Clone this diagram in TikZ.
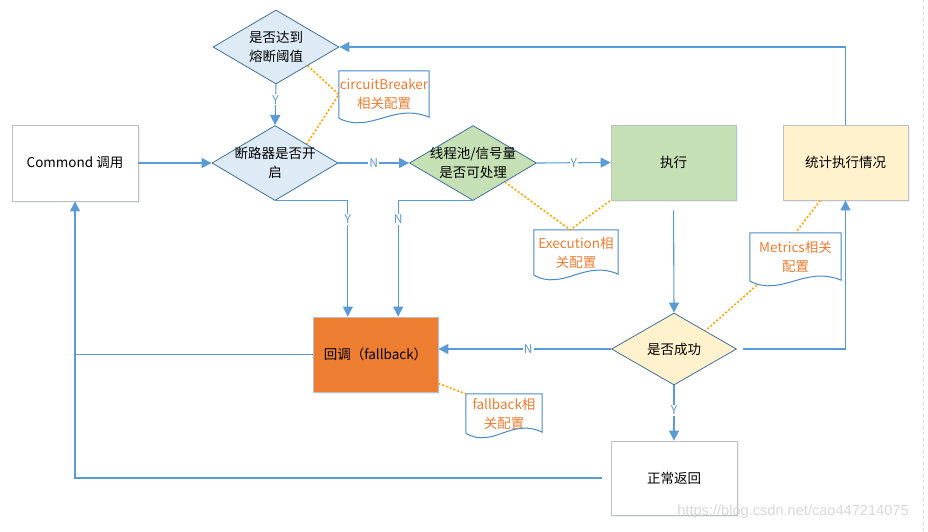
\documentclass[tikz,border=0pt]{standalone}
\usepackage{fontspec}
\setmainfont{Noto Sans CJK SC}
\newfontfamily\wmfont{Liberation Sans}
\usetikzlibrary{arrows.meta,shapes.geometric,calc,shadows}
\definecolor{lineblue}{HTML}{5B9BD5}
\definecolor{diaborder}{HTML}{41719C}
\definecolor{bluefill}{HTML}{DEEBF7}
\definecolor{greenfill}{HTML}{C5E0B4}
\definecolor{yellowfill}{HTML}{FFF2CC}
\definecolor{orangefill}{HTML}{ED7D31}
\definecolor{boxgray}{HTML}{BFBFBF}
\definecolor{cfgorange}{HTML}{FFA500}
\definecolor{doctext}{HTML}{ED7D31}
\definecolor{docblue}{HTML}{4A89C8}
\definecolor{shadowblue}{HTML}{9DC3E6}
\definecolor{wmgray}{HTML}{D9D9D9}
\tikzset{
  txt/.style={font=\fontsize{13.5}{19.5}\selectfont, align=center, inner sep=0pt},
  dia/.style={diamond, draw=diaborder, line width=0.8pt, inner sep=0pt, aspect=1},
  box/.style={rectangle, draw=boxgray, line width=0.8pt, txt,
    drop shadow={shadow xshift=1.5pt, shadow yshift=-1.5pt, opacity=0.2, fill=shadowblue}},
  conn/.style={draw=lineblue, line width=1.1pt, -{Triangle[length=10pt,width=10pt]}},
  plainconn/.style={draw=lineblue, line width=1.1pt},
  yn/.style={fill=white, text=lineblue, font=\fontsize{12}{14}\selectfont, inner sep=1pt},
  cfgline/.style={draw=cfgorange, line width=1.6pt, dash pattern=on 2pt off 2pt},
  docnode/.style={rectangle, inner sep=0pt, text=doctext, font=\fontsize{13.5}{19}\selectfont, align=center},
  docline/.style={draw=docblue, line width=1pt},
}
\newcommand\docshape[1]{%
  \draw[docline] (#1.south west) -- (#1.north west) -- (#1.north east) -- ($(#1.south east)+(0,-1)$)
    .. controls ($(#1.south east)!0.4!(#1.south west)+(0,-16)$) and ($(#1.south east)!0.65!(#1.south west)+(0,16)$) .. (#1.south west);}
\begin{document}
\begin{tikzpicture}[x=1pt,y=-1pt]
\useasboundingbox (0,0) rectangle (928,531);
\fill[white] (0,0) rectangle (928,531);

% diamonds
\node[dia, fill=bluefill, minimum width=126pt, minimum height=74pt,
  label={[txt,name=d1t]center:是否达到\\熔断阈值}] (d1) at (276,47) {};
\node[dia, fill=bluefill, minimum width=126pt, minimum height=75pt,
  label={[txt,name=d2t]center:断路器是否开\\启}] (d2) at (275,163) {};
\node[dia, fill=greenfill, minimum width=127pt, minimum height=75pt,
  label={[txt,name=d3t]center:线程池/信号量\\是否可处理}] (d3) at (473,163) {};
\node[dia, fill=yellowfill, minimum width=125pt, minimum height=72pt,
  label={[txt,name=d4t]center:是否成功}] (d4) at (674,349) {};

% boxes
\node[box, fill=white, minimum width=126pt, minimum height=76pt] (cmd) at (75,163) {Commond 调用};
\node[box, fill=greenfill, minimum width=125pt, minimum height=75pt] (exec) at (673.5,162.5) {执行};
\node[box, fill=yellowfill, minimum width=125pt, minimum height=75pt] (stat) at (845.5,162.5) {统计执行情况};
\node[box, fill=orangefill, draw=boxgray, minimum width=125pt, minimum height=75pt] (fb) at (375.5,354.5) {回调（fallback）};
\node[box, fill=white, minimum width=126pt, minimum height=74pt] (ret) at (674,478) {正常返回};

% documents
\node[docnode, minimum width=90pt, minimum height=47pt] (cb) at (384,94.5) {circuitBreaker\\相关配置};
\node[docnode, minimum width=84pt, minimum height=45pt] (ex) at (576,252.5) {Execution相\\关配置};
\node[docnode, minimum width=91pt, minimum height=48pt] (met) at (795.5,257) {Metrics相关\\配置};
\node[docnode, minimum width=76pt, minimum height=39pt] (fbd) at (504,413.5) {fallback相\\关配置};
\docshape{cb}
\docshape{ex}
\docshape{met}
\docshape{fbd}

% config dotted lines
\draw[cfgline] (d1.south east) -- (cb.west) -- (d2.north east);
\draw[cfgline] (d3.south east) -- ($(ex.north west)!0.43!(ex.north east)$) -- (exec.south west);
\draw[cfgline] ($(stat.south west)!0.3!(stat.south east)$) -- (met.north);
\draw[cfgline] ($(met.south west)+(7,4)$) -- (d4.north east);
\draw[cfgline] ($(fb.south east)+(0,-9)$) -- (fbd.north west);

% connectors
\draw[conn] (cmd.east) -- (d2.west);
\draw[conn] (d2.east) -- node[yn] (nlab1) {N} (d3.west);
\draw[conn] (d3.east) -- node[yn] (ylab1) {Y} (exec.west);
\draw[conn, shorten <=10pt] (exec.south) -- (d4.north);
\draw[conn] (d4.west) -- node[yn, pos=0.48] (nlab2) {N} (d4.west -| fb.east);
\draw[conn] (d4.south) -- node[yn, pos=0.45] (ylab2) {Y} (ret.north);
\draw[conn, shorten <=6pt] (d4.east) -| (stat.south);
\draw[conn] (stat.north) |- (d1.east);
\draw[conn] (d1.south) -- node[yn, pos=0.38] (ylab3) {Y} (d2.north);
\coordinate (fbin1) at ($(fb.north west)!0.28!(fb.north east)$);
\coordinate (fbin2) at ($(fb.north west)!0.68!(fb.north east)$);
\draw[conn] (d2.south) -| node[yn, pos=0.58] (ylab4) {Y} (fbin1);
\draw[conn] (d3.south) -| node[yn, pos=0.58] (nlab3) {N} (fbin2);
\draw[plainconn] (fb.west) -- (fb.west -| cmd.south);
\draw[conn, shorten <=9pt] (ret.west) -| (cmd.south);

% page edge and watermark
\coordinate (edgetop) at (923,0);
\coordinate (edgebot) at (923,531);
\draw[wmgray, dashed, line width=0.6pt] (edgetop) -- (edgebot);
\node[text=wmgray, font=\wmfont\fontsize{14.6}{16}\selectfont, inner sep=0pt] (wm) at (793,512) {https://blog.csdn.net/cao447214075};
\end{tikzpicture}
\end{document}
